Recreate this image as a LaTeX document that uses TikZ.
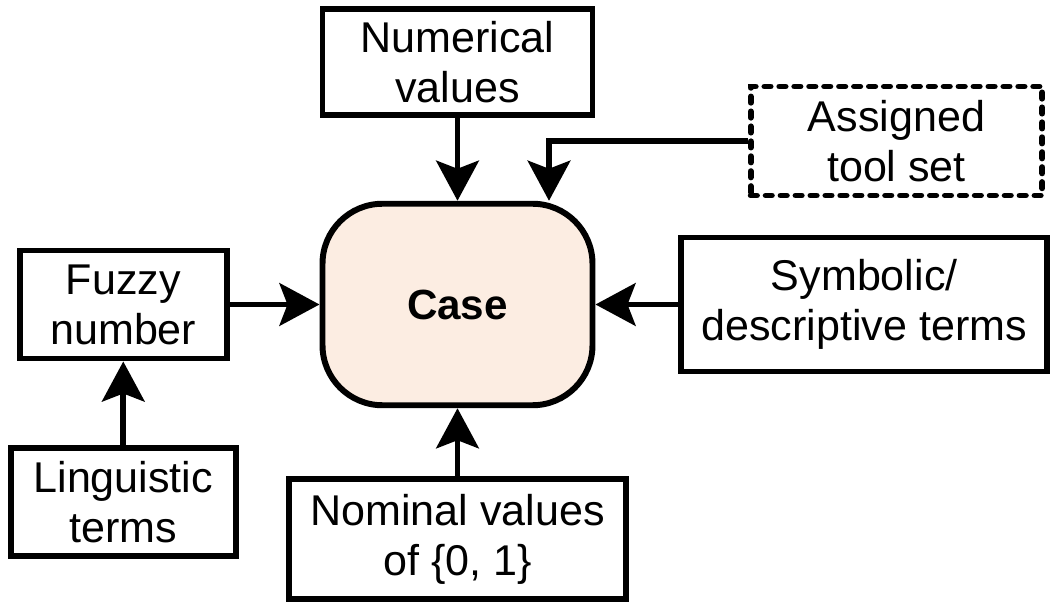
\documentclass[tikz,border=0pt]{standalone}
\usepackage{fontspec}
\setmainfont{Liberation Sans}
\usepackage{xcolor}
\usepackage{tikz}
\usetikzlibrary{arrows.meta, positioning}
\definecolor{mypeach}{HTML}{FCEDE2}

\begin{document}
\begin{tikzpicture}[box/.style={rectangle, draw, line width=3.4pt, align=center, font=\fontsize{24.5}{28.5}\selectfont, inner sep=2pt},
                casebox/.style={box, rounded corners=1.2cm, fill=mypeach, font=\fontsize{24}{28}\selectfont\bfseries},
                arrow/.style={-{Stealth[length=8mm, width=8.5mm, inset=1.6mm]}, line width=3.4pt}]
                \useasboundingbox (0,0) rectangle (21.18,12.12);
                \node[casebox, minimum width=5.4cm, minimum height=4.03cm] (case) at (9.15,6.03) {Case};
                \node[box, above=1.66cm of case, minimum width=5.4cm, minimum height=2.12cm] (numeric) {Numerical\\values};
                \node[box, below=1.36cm of case, minimum width=6.75cm, minimum height=2.4cm] (nominal) {Nominal values\\of \{0, 1\}};
                \node[box, right=1.65cm of case, minimum width=7.33cm, minimum height=2.68cm] (symbolic) {Symbolic/\\descriptive terms};
                \node[box, left=1.8cm of case, minimum width=4.13cm, minimum height=2.16cm] (fuzzy) {Fuzzy\\number};
                \node[box, below=1.68cm of fuzzy, minimum width=4.5cm, minimum height=2.16cm] (linguistic) {Linguistic\\terms};
                \node[box, dash pattern=on 3.5pt off 5pt, line cap=round, minimum width=5.83cm, minimum height=2.18cm] (toolset) at (17.93,9.3) {Assigned\\tool set};

                \draw[arrow] (numeric) -- (case);
                \draw[arrow] (nominal) -- (case);
                \draw[arrow] (symbolic) -- (case);
                \draw[arrow] (fuzzy) -- (case);
                \draw[arrow] (linguistic) -- (fuzzy);
                \draw[arrow] (toolset.west) -| ([xshift=1.83cm]case.north);
            \end{tikzpicture}
\end{document}
